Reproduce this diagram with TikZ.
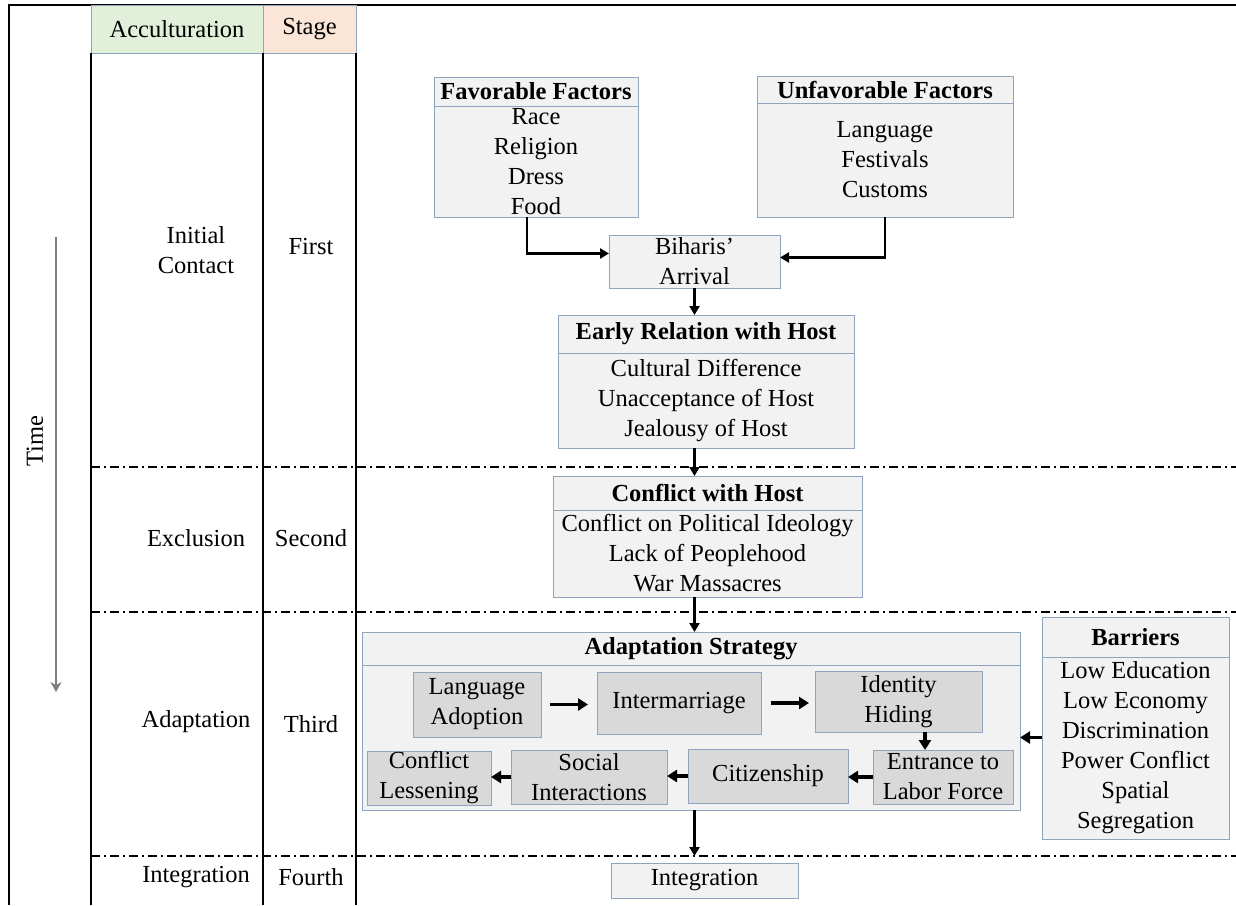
\documentclass[tikz,border=0pt]{standalone}
\usepackage{fontspec}
\setmainfont{Liberation Serif}
\usetikzlibrary{arrows.meta,positioning,calc}
\definecolor{boxline}{RGB}{143,164,190}
\definecolor{boxfill}{RGB}{242,242,242}
\definecolor{stepfill}{RGB}{217,217,217}
\definecolor{accgreen}{RGB}{226,240,217}
\definecolor{stageorange}{RGB}{251,229,214}
\definecolor{timegray}{RGB}{128,128,128}

\begin{document}
\begin{tikzpicture}[x=1pt,y=-1pt,
    every node/.style={font=\fontsize{24.5}{30}\selectfont,inner sep=0pt,outer sep=0pt,align=center},
    box/.style={draw=boxline,fill=boxfill,line width=0.9pt},
    head/.style={box,font=\fontsize{24.5}{30}\selectfont\bfseries},
    stepbox/.style={draw=boxline,fill=stepfill,line width=0.9pt},
    arr/.style={line width=2.4pt,-{Triangle[length=9pt,width=10pt]}},
    fatarr/.style={line width=3.5pt,-{Triangle[length=10pt,width=12pt]}},
    sep/.style={line width=1.6pt,dash pattern=on 9pt off 4pt on 2pt off 4pt}]
    \useasboundingbox (0,0) rectangle (1236,905);
    \draw[line width=2pt] (9,905) -- (9,5) -- (1236,5);

    % table head and columns
    \node[box,fill=accgreen,minimum width=172pt,minimum height=48pt] (acc) at (177,29) {Acculturation};
    \node[box,fill=stageorange,minimum width=93pt,minimum height=48pt] (stage) at (309.5,29) {Stage};
    \draw[line width=1.3pt] (acc.south west) -- (acc.south west |- 0,905);
    \draw[line width=1.3pt] (acc.south east) -- (acc.south east |- 0,905);
    \draw[line width=1.3pt] (stage.south east) -- (stage.south east |- 0,905);

    \node (lc1) at (196,250) {Initial\\Contact};
    \node (st1) at (311,247) {First};
    \node (lc2) at (196,538) {Exclusion};
    \node (st2) at (311,538) {Second};
    \node (lc3) at (196,722) {Adaptation};
    \node (st3) at (311,724) {Third};
    \node (lc4) at (196,877) {Integration};
    \node (st4) at (311,877) {Fourth};

    % time axis
    \node[rotate=90] (time) at (35,441) {Time};
    \coordinate (t1) at (56,237);
    \coordinate (t2) at (56,692);
    \draw[timegray,line width=1.6pt,-{Stealth[length=10pt,width=11pt,inset=3pt]}] (t1) -- (t2);

    \foreach \y in {467,612,856}
      \draw[sep] (91,\y) -- (1236,\y);

    % first stage
    \node[head,minimum width=204pt,minimum height=29pt] (favh) at (536,91.5) {Favorable Factors};
    \node[box,below=0pt of favh,minimum width=204pt,minimum height=111pt] (fav) {Race\\Religion\\Dress\\Food};
    \node[head,minimum width=256pt,minimum height=27pt] (unfh) at (885,89.5) {Unfavorable Factors};
    \node[box,below=0pt of unfh,minimum width=256pt,minimum height=114pt] (unf) {Language\\Festivals\\Customs};
    \node[box,minimum width=171pt,minimum height=53pt] (bih) at (694.5,261.5) {Biharis'\\Arrival};
    \node[head,minimum width=296pt,minimum height=38pt] (earlyh) at (706,334) {Early Relation with Host};
    \node[box,below=0pt of earlyh,minimum width=296pt,minimum height=95pt] (early) {Cultural Difference\\Unacceptance of Host\\Jealousy of Host};

    % second stage
    \node[head,minimum width=309pt,minimum height=34pt] (confh) at (707.5,493) {Conflict with Host};
    \node[box,below=0pt of confh,minimum width=309pt,minimum height=87pt] (conf) {Conflict on Political Ideology\\Lack of Peoplehood\\War Massacres};

    % third stage
    \node[head,minimum width=658pt,minimum height=33pt] (adapth) at (691,648.5) {Adaptation Strategy};
    \node[box,below=0pt of adapth,minimum width=658pt,minimum height=145pt] (adapt) {};
    \node[stepbox,minimum width=128pt,minimum height=65pt] (lang) at (477,704.5) {Language\\Adoption};
    \node[stepbox,minimum width=164pt,minimum height=62pt] (marr) at (679,703) {Intermarriage};
    \node[stepbox,minimum width=167pt,minimum height=61pt] (hide) at (898.5,701.5) {Identity\\Hiding};
    \node[stepbox,minimum width=140pt,minimum height=54pt] (labor) at (943,777) {Entrance to\\Labor Force};
    \node[stepbox,minimum width=160pt,minimum height=54pt] (citz) at (768,776) {Citizenship};
    \node[stepbox,minimum width=156pt,minimum height=54pt] (soc) at (589,777) {Social\\Interactions};
    \node[stepbox,minimum width=124pt,minimum height=54pt] (less) at (429,778) {Conflict\\Lessening};
    \node[head,minimum width=187pt,minimum height=40pt] (barh) at (1135.5,637) {Barriers};
    \node[box,below=0pt of barh,minimum width=187pt,minimum height=182pt] (bar) {Low Education\\Low Economy\\Discrimination\\Power Conflict\\Spatial\\Segregation};

    % fourth stage
    \node[box,minimum width=187pt,minimum height=35pt] (integ) at (704.5,880.5) {Integration};

    \draw[arr] ([xshift=-9pt]fav.south) |- ([yshift=8pt]bih.west);
    \draw[arr] (unf.south) |- ([yshift=4pt]bih.east);
    \draw[arr] (bih.south) -- (bih.south |- earlyh.north);
    \draw[arr] (bih.south |- early.south) -- (bih.south |- confh.north);
    \draw[arr] (bih.south |- conf.south) -- (bih.south |- adapth.north);
    \draw[arr,shorten >=7pt] (bih.south |- adapt.south) -- (bih.south |- integ.north);

    \draw[fatarr,shorten <=9pt,shorten >=9pt] (lang.east) -- (lang.east -| marr.west);
    \draw[fatarr,shorten <=10pt,shorten >=6pt] (marr.east) -- (marr.east -| hide.west);
    \coordinate (drop) at ([xshift=-18pt]labor.north);
    \draw[fatarr] (drop |- hide.south) -- (drop);
    \draw[fatarr] (labor.west) -- (labor.west -| citz.east);
    \draw[fatarr] (citz.west) -- (citz.west -| soc.east);
    \draw[fatarr] (soc.west) -- (soc.west -| less.east);
    \draw[fatarr] (adapt.east -| bar.west) -- (adapt.east);
\end{tikzpicture}
\end{document}
